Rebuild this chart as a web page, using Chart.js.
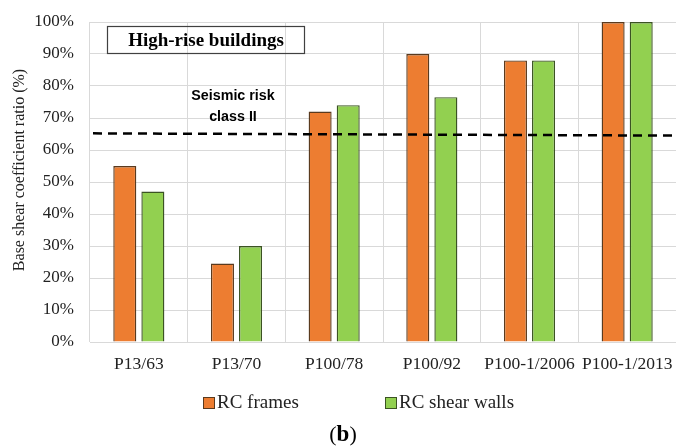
<!DOCTYPE html>
<html>
<head>
<meta charset="utf-8">
<script src="https://cdn.jsdelivr.net/npm/chart.js@4"></script>
<style>
  html, body { margin: 0; padding: 0; background: #fff; }
  #wrap { width: 676px; height: 447px; }
</style>
</head>
<body>
<div id="wrap"><canvas id="chart" width="676" height="447"></canvas></div>
<script>
// Base shear coefficient ratio, high-rise buildings
const codes = ['P13/63', 'P13/70', 'P100/78', 'P100/92', 'P100-1/2006', 'P100-1/2013'];
const rcFrames = [55, 24.5, 72, 90, 88, 100];
const rcShearWalls = [47, 30, 74, 76.5, 88, 100];
const riskLine = [65.2, 64.5];   // seismic risk class II, left end / right end
const yTicks = [0, 10, 20, 30, 40, 50, 60, 70, 80, 90, 100];

const serif = '"Liberation Serif", "Times New Roman", serif';
const sans = '"Liberation Sans", Arial, sans-serif';

// dashed threshold line, drawn from the y scale
const riskLinePlugin = {
    id: 'riskLine',
    afterDatasetsDraw(chart) {
        const { ctx, chartArea, scales } = chart;
        ctx.save();
        ctx.strokeStyle = '#000';
        ctx.lineWidth = 2.5;
        ctx.setLineDash([9, 6]);
        ctx.beginPath();
        ctx.moveTo(chartArea.left + 3, scales.y.getPixelForValue(riskLine[0]));
        ctx.lineTo(chartArea.right, scales.y.getPixelForValue(riskLine[1]));
        ctx.stroke();
        ctx.restore();
    }
};

// annotations + legend + axis title + panel letter
const extrasPlugin = {
    id: 'extras',
    afterDraw(chart) {
        const ctx = chart.ctx;
        const ds = chart.data.datasets;
        ctx.save();

        // text box
        ctx.strokeStyle = '#404040';
        ctx.lineWidth = 1.2;
        ctx.strokeRect(107.5, 26.5, 197, 27);
        ctx.fillStyle = '#000';
        ctx.font = 'bold 19px ' + serif;
        ctx.textAlign = 'center';
        ctx.textBaseline = 'middle';
        ctx.fillText('High-rise buildings', 206, 41);

        ctx.font = 'bold 14.3px ' + sans;
        ctx.fillText('Seismic risk', 233, 96);
        ctx.fillText('class II', 233, 117);

        // y axis title
        ctx.save();
        ctx.translate(20, 170);
        ctx.rotate(-Math.PI / 2);
        ctx.font = '16px ' + serif;
        ctx.fillStyle = '#222';
        ctx.fillText('Base shear coefficient ratio (%)', 0, 0);
        ctx.restore();

        // legend
        const items = [
            { label: ds[0].label, fill: ds[0].backgroundColor, line: ds[0].borderColor, x: 203 },
            { label: ds[1].label, fill: ds[1].backgroundColor, line: ds[1].borderColor, x: 385 }
        ];
        ctx.font = '19px ' + serif;
        ctx.textAlign = 'left';
        items.forEach(it => {
            ctx.fillStyle = it.fill;
            ctx.fillRect(it.x, 397, 11, 11);
            ctx.strokeStyle = it.line;
            ctx.lineWidth = 1;
            ctx.strokeRect(it.x + 0.5, 397.5, 11, 11);
            ctx.fillStyle = '#222';
            ctx.fillText(it.label, it.x + 14, 403);
        });

        // panel letter
        ctx.fillStyle = '#000';
        ctx.textBaseline = 'alphabetic';
        ctx.font = '22px ' + serif;
        const w1 = ctx.measureText('(').width;
        ctx.font = 'bold 23px ' + serif;
        const w2 = ctx.measureText('b').width;
        const x0 = 343 - (w1 * 2 + w2) / 2;
        ctx.font = '22px ' + serif;
        ctx.fillText('(', x0, 441);
        ctx.font = 'bold 23px ' + serif;
        ctx.fillText('b', x0 + w1, 441);
        ctx.font = '22px ' + serif;
        ctx.fillText(')', x0 + w1 + w2, 441);
        ctx.restore();
    }
};

const ctx = document.getElementById('chart').getContext('2d');
new Chart(ctx, {
    type: 'bar',
    data: {
        labels: codes,
        datasets: [
            {
                label: 'RC frames',
                data: rcFrames,
                backgroundColor: '#ED7D31',
                borderColor: '#5a3a1e',
                borderWidth: 1.4
            },
            {
                label: 'RC shear walls',
                data: rcShearWalls,
                backgroundColor: '#92D050',
                borderColor: '#3b5323',
                borderWidth: 1.4
            }
        ]
    },
    options: {
        responsive: false,
        animation: false,
        categoryPercentage: 0.575,
        barPercentage: 0.82,
        layout: { padding: { top: 22, right: 0, bottom: 0, left: 0 } },
        plugins: {
            legend: { display: false },
            tooltip: { enabled: false }
        },
        scales: {
            x: {
                grid: { color: '#d9d9d9', lineWidth: 1, drawTicks: false },
                border: { color: '#d9d9d9' },
                ticks: {
                    color: '#222',
                    font: { family: serif, size: 17.5 },
                    padding: 12,
                    maxRotation: 0
                },
                afterFit(scale) {
                    scale.height = 105;
                    scale.paddingRight = 0;
                    scale.paddingLeft = 0;
                }
            },
            y: {
                min: 0,
                max: 100,
                afterBuildTicks(scale) { scale.ticks = yTicks.map(v => ({ value: v })); },
                grid: { color: '#d9d9d9', lineWidth: 1, drawTicks: false },
                border: { display: false },
                ticks: {
                    color: '#222',
                    font: { family: serif, size: 17 },
                    padding: 16,
                    callback: v => v + '%'
                },
                afterFit(scale) {
                    scale.width = 90;
                    scale.paddingTop = 0;
                    scale.paddingBottom = 0;
                }
            }
        }
    },
    plugins: [riskLinePlugin, extrasPlugin]
});
</script>
</body>
</html>
